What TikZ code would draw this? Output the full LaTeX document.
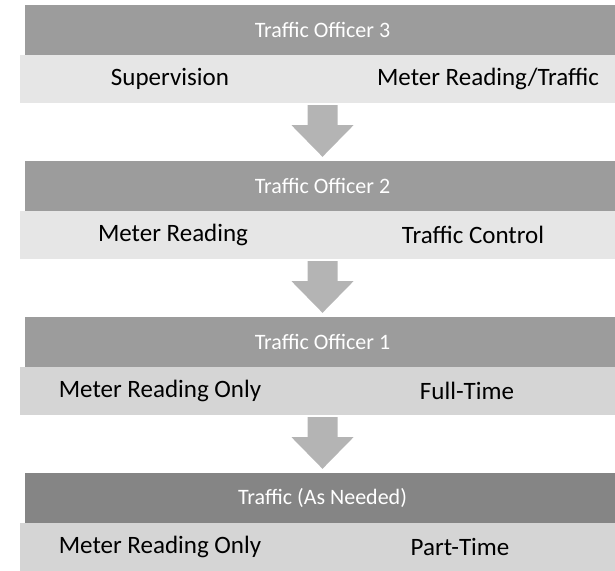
\documentclass[tikz,border=0pt]{standalone}
\usepackage{fontspec}
\setmainfont{Carlito}
\usetikzlibrary{arrows.meta}

\definecolor{headgray}{HTML}{9C9C9C}
\definecolor{lastgray}{HTML}{858585}
\definecolor{bandgray}{HTML}{E0E0E0}
\definecolor{arrowgray}{HTML}{B4B4B4}

\begin{document}
\begin{tikzpicture}
  [x=1pt,y=-1pt,
   head/.style={rectangle,minimum width=595pt,minimum height=50pt,inner sep=0pt,
     text=white,font=\fontsize{22}{24}\selectfont},
   band/.style={rectangle,fill=bandgray,minimum width=605pt,minimum height=48pt,inner sep=0pt},
   item/.style={inner sep=0pt,font=\fontsize{25}{28}\selectfont},
   flow/.style={draw=none,fill=arrowgray}]
  \useasboundingbox (0,0) rectangle (615,570);

  \foreach \i/\top/\hc/\bc/\title/\lx/\lt/\rx/\rt in {
      1/5/headgray/bandgray!80!white/{Traffic Officer 3}/170/{Supervision}/488/{Meter Reading/Traffic},
      2/161/headgray/bandgray!80!white/{Traffic Officer 2}/173/{Meter Reading}/473/{Traffic Control},
      3/317/headgray/bandgray!95!black/{Traffic Officer 1}/160/{Meter Reading Only}/467/{Full-Time},
      4/473/lastgray/bandgray!95!black/{Traffic (As Needed)}/160/{Meter Reading Only}/460/{Part-Time}}
  {
    \node[head,fill=\hc] (head\i) at (322.5,\top+25) {\title};
    \node[band,fill=\bc] (band\i) at (322.5,\top+74) {};
    \node[item] (left\i) at (\lx,\top+74) {\lt};
    \node[item] (right\i) at (\rx,\top+74) {\rt};
  }

  % block arrows between the levels
  \foreach \from/\to in {1/2,2/3,3/4}
    \fill[flow] ([xshift=-15pt,yshift=-2pt]band\from.south)
      -- ([xshift=-15pt,yshift=-22pt]band\from.south)
      -- ([xshift=-31pt,yshift=-22pt]band\from.south)
      -- ([yshift=4pt]head\to.north)
      -- ([xshift=31pt,yshift=-22pt]band\from.south)
      -- ([xshift=15pt,yshift=-22pt]band\from.south)
      -- ([xshift=15pt,yshift=-2pt]band\from.south) -- cycle;

\end{tikzpicture}
\end{document}
